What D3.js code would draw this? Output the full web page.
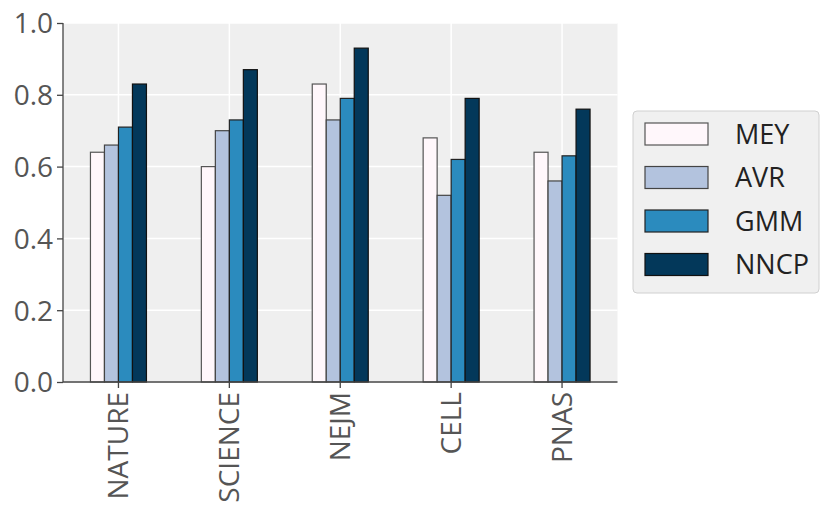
<!DOCTYPE html>
<html><head><meta charset="utf-8">
<script src="https://cdn.jsdelivr.net/npm/d3@7"></script>
<style>body{margin:0;background:#fff;} text{font-family:"Open Sans",sans-serif;}</style>
</head><body><svg id="c" width="831" height="513"></svg>
<script>
const categories = ["NATURE","SCIENCE","NEJM","CELL","PNAS"];
const seriesNames = ["MEY","AVR","GMM","NNCP"];
const MEY  = [0.64,0.60,0.83,0.68,0.64];
const AVR  = [0.66,0.70,0.73,0.52,0.56];
const GMM  = [0.71,0.73,0.79,0.62,0.63];
const NNCP = [0.83,0.87,0.93,0.79,0.76];
const yTicks = [0,0.2,0.4,0.6,0.8,1.0];
const colors = ["#fff7fb","#b3c3de","#2b8bbe","#03385a"];
const strokes = ["#555","#444","#222","#111"];
const seriesVals = [MEY,AVR,GMM,NNCP];

const svg = d3.select("#c");
const L=63,R=617.5,T=23,B=382;
const x = d3.scaleBand().domain(categories).range([L,R]).padding(0);
const y = d3.scaleLinear().domain([0,1]).range([B,T]);
const barW = 14;

svg.append("rect").attr("x",L).attr("y",T).attr("width",R-L).attr("height",B-T).attr("fill","#efefef");
svg.append("g").selectAll("line").data(yTicks).join("line")
  .attr("x1",L).attr("x2",R).attr("y1",d=>y(d)).attr("y2",d=>y(d))
  .attr("stroke","#fff").attr("stroke-width",1.5);
svg.append("g").selectAll("line").data(categories).join("line")
  .attr("x1",d=>x(d)+x.bandwidth()/2).attr("x2",d=>x(d)+x.bandwidth()/2).attr("y1",T).attr("y2",B)
  .attr("stroke","#fff").attr("stroke-width",1.5);

seriesVals.forEach((vals,si)=>{
  svg.append("g").selectAll("rect").data(vals).join("rect")
    .attr("x",(d,i)=>x(categories[i])+x.bandwidth()/2 + (si-2)*barW)
    .attr("y",d=>y(d)).attr("width",barW).attr("height",d=>B-y(d))
    .attr("fill",colors[si]).attr("stroke",strokes[si]).attr("stroke-width",1.2);
});

const ya = svg.append("g").attr("transform",`translate(${L},0)`)
  .call(d3.axisLeft(y).tickValues(yTicks).tickFormat(d3.format(".1f")).tickSize(6).tickPadding(5));
const xa = svg.append("g").attr("transform",`translate(0,${B})`)
  .call(d3.axisBottom(x).tickSize(6).tickPadding(5));
[ya,xa].forEach(a=>{
  a.select(".domain").attr("stroke","#444").attr("stroke-width",1.3);
  a.selectAll(".tick line").attr("stroke","#444").attr("stroke-width",1.3);
  a.selectAll("text").attr("fill","#555").style("font-size","28px").style("font-family","Open Sans, sans-serif");
});
ya.select(".domain").attr("d",`M0,${T}V${B}`);
xa.select(".domain").attr("d",`M${L},0H${R}`);
ya.selectAll("text").attr("dy","0.35em").attr("x",-10);
xa.selectAll("text").attr("transform","rotate(-90)").attr("text-anchor","end")
  .attr("x",-10).attr("y",0).attr("dy","0.35em");

const lg = svg.append("g").attr("transform","translate(633,111)");
lg.append("rect").attr("width",186).attr("height",182).attr("rx",4)
  .attr("fill","#f0f0f0").attr("stroke","#d0d0d0");
seriesNames.forEach((n,i)=>{
  const g = lg.append("g").attr("transform",`translate(12,${12+i*43.5})`);
  g.append("rect").attr("width",63).attr("height",22).attr("fill",colors[i]).attr("stroke",strokes[i]).attr("stroke-width",1.2);
  g.append("text").attr("x",90).attr("y",11).attr("dy","0.36em").text(n)
    .attr("fill","#222").style("font-size","27px");
});
</script></body></html>
